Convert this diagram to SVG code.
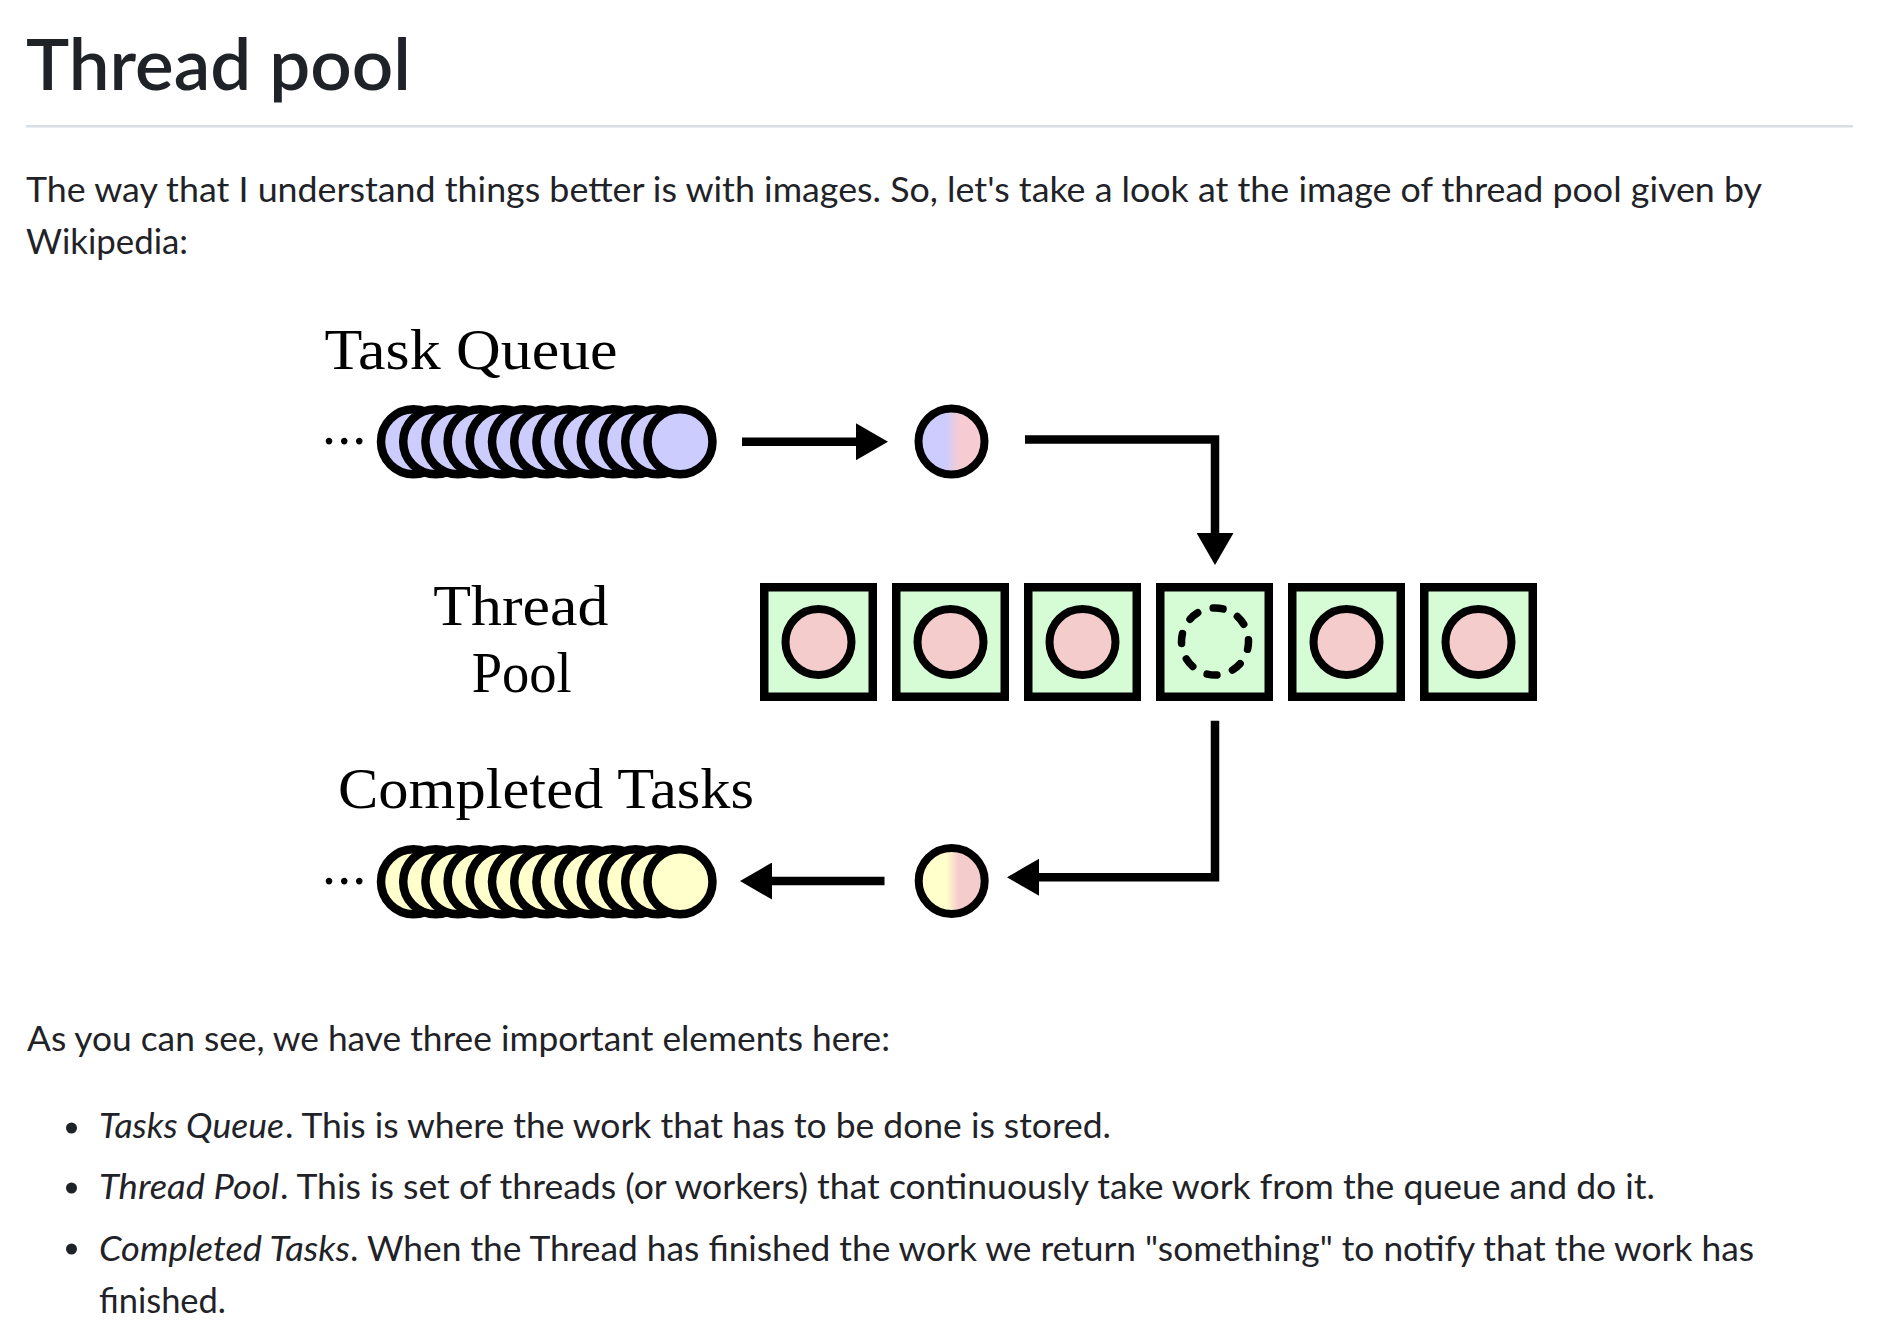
<svg xmlns="http://www.w3.org/2000/svg" width="1879" height="1331" viewBox="0 0 1879 1331">
<defs>
<style>
.page{font-family:Lato,"Noto Sans","Open Sans",sans-serif;fill:#1f2328;font-size:34px}
.title{font-family:Lato,"Noto Sans","Open Sans",sans-serif;fill:#1f2328;font-size:72px;font-weight:600}
.it{font-style:italic}
.lbl{font-family:"Liberation Serif","DejaVu Serif",serif;fill:#000;font-size:56px}
.q{fill:#ccccff;stroke:#000;stroke-width:8.5}
.c{fill:#ffffcc;stroke:#000;stroke-width:8.5}
.box{fill:#d5fcd5;stroke:#000;stroke-width:8.5}
.th{fill:#f5cccc;stroke:#000;stroke-width:8}
.dash{fill:none;stroke:#000;stroke-width:7.5;stroke-dasharray:10 16.31;stroke-dashoffset:2.1;stroke-linecap:round}
.conn{fill:none;stroke:#000;stroke-width:8.5;stroke-linejoin:miter}
</style>
<linearGradient id="gq" x1="0" y1="0" x2="1" y2="0">
<stop offset="0.4" stop-color="#ccccff"/>
<stop offset="0.62" stop-color="#f6ccd2"/>
</linearGradient>
<linearGradient id="gc" x1="0" y1="0" x2="1" y2="0">
<stop offset="0.42" stop-color="#ffffcc"/>
<stop offset="0.6" stop-color="#f5cccc"/>
</linearGradient>
<marker id="ah" markerUnits="userSpaceOnUse" markerWidth="32" markerHeight="37" viewBox="0 0 32 37" refX="1" refY="18.5" orient="auto">
<path d="M0,0 L32,18.5 L0,37 z" fill="#000"/>
</marker>
</defs>
<rect width="1879" height="1331" fill="#fff"/>

<g id="page-text">
<text class="title" x="26" y="90" textLength="385" lengthAdjust="spacingAndGlyphs">Thread pool</text>
<rect x="26" y="125" width="1827" height="2.5" fill="#d8dee4"/>
<text class="page" x="26" y="201.5" textLength="1736" lengthAdjust="spacingAndGlyphs">The way that I understand things better is with images. So, let's take a look at the image of thread pool given by</text>
<text class="page" x="26" y="254" textLength="162" lengthAdjust="spacingAndGlyphs">Wikipedia:</text>
<text class="page" x="27" y="1051" textLength="863" lengthAdjust="spacingAndGlyphs">As you can see, we have three important elements here:</text>
<circle cx="71.5" cy="1128" r="5.5" fill="#1f2328"/>
<circle cx="71.5" cy="1188" r="5.5" fill="#1f2328"/>
<circle cx="71.5" cy="1249" r="5.5" fill="#1f2328"/>
<text class="page it" x="99" y="1138" textLength="185" lengthAdjust="spacingAndGlyphs">Tasks Queue</text>
<text class="page" x="285" y="1138" textLength="826" lengthAdjust="spacingAndGlyphs">. This is where the work that has to be done is stored.</text>
<text class="page it" x="99" y="1199" textLength="180" lengthAdjust="spacingAndGlyphs">Thread Pool</text>
<text class="page" x="280" y="1199" textLength="1375" lengthAdjust="spacingAndGlyphs">. This is set of threads (or workers) that continuously take work from the queue and do it.</text>
<text class="page it" x="99" y="1261" textLength="251" lengthAdjust="spacingAndGlyphs">Completed Tasks</text>
<text class="page" x="350" y="1261" textLength="1404" lengthAdjust="spacingAndGlyphs">. When the Thread has finished the work we return "something" to notify that the work has</text>
<text class="page" x="99" y="1313" textLength="127" lengthAdjust="spacingAndGlyphs">finished.</text>
</g>

<g id="task-queue">
<text class="lbl" x="324.6" y="369" textLength="293" lengthAdjust="spacingAndGlyphs">Task Queue</text>
<text class="lbl" x="322 337.3 352.3" y="444">...</text>
<circle class="q" cx="413.5" cy="441.7" r="32.5"/>
<circle class="q" cx="435.7" cy="441.7" r="32.5"/>
<circle class="q" cx="457.9" cy="441.7" r="32.5"/>
<circle class="q" cx="480.1" cy="441.7" r="32.5"/>
<circle class="q" cx="502.3" cy="441.7" r="32.5"/>
<circle class="q" cx="524.5" cy="441.7" r="32.5"/>
<circle class="q" cx="546.7" cy="441.7" r="32.5"/>
<circle class="q" cx="568.9" cy="441.7" r="32.5"/>
<circle class="q" cx="591.1" cy="441.7" r="32.5"/>
<circle class="q" cx="613.3" cy="441.7" r="32.5"/>
<circle class="q" cx="635.5" cy="441.7" r="32.5"/>
<circle class="q" cx="657.7" cy="441.7" r="32.5"/>
<circle class="q" cx="680" cy="441.7" r="32.5"/>
</g>

<g id="dequeued-task">
<circle cx="951.5" cy="441.5" r="33" fill="url(#gq)" stroke="#000" stroke-width="8"/>
</g>

<g id="thread-pool">
<text class="lbl" x="433.3" y="625" textLength="175" lengthAdjust="spacingAndGlyphs">Thread</text>
<text class="lbl" x="471.7" y="691.7" textLength="100" lengthAdjust="spacingAndGlyphs">Pool</text>
<g id="thread-1"><rect class="box" x="764.25" y="587.25" width="108.5" height="109.5"/><circle class="th" cx="818.5" cy="642" r="33"/></g>
<g id="thread-2"><rect class="box" x="896.25" y="587.25" width="108.5" height="109.5"/><circle class="th" cx="950.5" cy="642" r="33"/></g>
<g id="thread-3"><rect class="box" x="1028.25" y="587.25" width="108.5" height="109.5"/><circle class="th" cx="1082.5" cy="642" r="33"/></g>
<g id="thread-4"><rect class="box" x="1160.25" y="587.25" width="108.5" height="109.5"/><circle class="dash" cx="1215" cy="641.5" r="33.5"/></g>
<g id="thread-5"><rect class="box" x="1292.25" y="587.25" width="108.5" height="109.5"/><circle class="th" cx="1346.5" cy="642" r="33"/></g>
<g id="thread-6"><rect class="box" x="1424.25" y="587.25" width="108.5" height="109.5"/><circle class="th" cx="1478.5" cy="642" r="33"/></g>
</g>

<g id="finished-task">
<circle cx="951.7" cy="881" r="33" fill="url(#gc)" stroke="#000" stroke-width="8"/>
</g>

<g id="completed-tasks">
<text class="lbl" x="338" y="808.3" textLength="416" lengthAdjust="spacingAndGlyphs">Completed Tasks</text>
<text class="lbl" x="322 337.3 352.3" y="884">...</text>
<circle class="c" cx="413.5" cy="881.7" r="32.5"/>
<circle class="c" cx="435.7" cy="881.7" r="32.5"/>
<circle class="c" cx="457.9" cy="881.7" r="32.5"/>
<circle class="c" cx="480.1" cy="881.7" r="32.5"/>
<circle class="c" cx="502.3" cy="881.7" r="32.5"/>
<circle class="c" cx="524.5" cy="881.7" r="32.5"/>
<circle class="c" cx="546.7" cy="881.7" r="32.5"/>
<circle class="c" cx="568.9" cy="881.7" r="32.5"/>
<circle class="c" cx="591.1" cy="881.7" r="32.5"/>
<circle class="c" cx="613.3" cy="881.7" r="32.5"/>
<circle class="c" cx="635.5" cy="881.7" r="32.5"/>
<circle class="c" cx="657.7" cy="881.7" r="32.5"/>
<circle class="c" cx="680" cy="881.7" r="32.5"/>
</g>

<g id="connectors">
<path class="conn" d="M742,441.7 H857" marker-end="url(#ah)"/>
<path class="conn" d="M1025,439.5 H1215 V534" marker-end="url(#ah)"/>
<path class="conn" d="M1215,720.7 V877.3 H1038" marker-end="url(#ah)"/>
<path class="conn" d="M884.5,881 H771" marker-end="url(#ah)"/>
</g>
</svg>
